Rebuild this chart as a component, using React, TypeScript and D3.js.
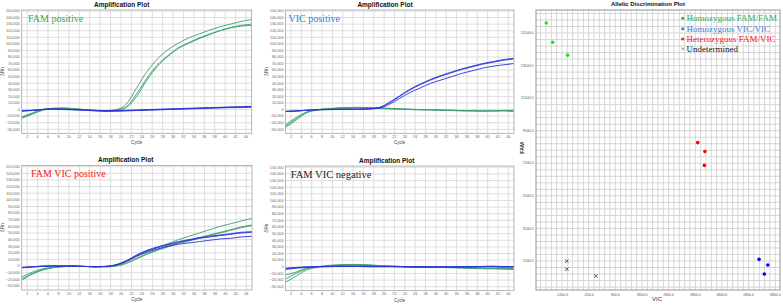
import React from 'react';
import * as d3 from 'd3';

// sampled cycles (every 2nd cycle), ΔRn in thousands
const cycles = [1, 3, 5, 7, 9, 11, 13, 15, 17, 19, 21, 23, 25, 27, 29, 31, 33, 35, 37, 39, 41, 43, 45];

// FAM positive
const famPosFam1 = [-12, -6, 0, 2, 2, 1, 0, -1, -1.5, 0, 8, 33, 58, 77, 91, 101, 109, 115, 121, 126, 130, 134, 137];
const famPosFam2 = [-13, -7, -1, 1.5, 2, 1, 0, -1, -2, -1, 4, 24, 48, 68, 82, 94, 102, 109, 115, 120, 125, 128, 130];
const famPosFam3 = [-11, -5, 0, 2, 2.5, 1.5, 0, -1, -2, -1, 3, 20, 45, 66, 81, 93, 101, 108, 114, 120, 124, 127, 128];
const famPosVic1 = [-2, -1.5, 0, 1, 0.5, 0, -0.5, -1.5, -2, -2, -1.5, -1, -0.5, 0, 0.5, 1, 1.5, 2, 2.5, 3, 3.5, 4, 4.5];
const famPosVic2 = [-2.5, -1, 0.5, 1, 0.5, 0, -1, -2, -2.5, -2.5, -2, -1.5, -1, -0.5, 0, 0.5, 1, 1.5, 2, 2.5, 3, 3, 3.5];
const famPosVic3 = [-1.5, -1, 0, 0.5, 0, -0.5, -1, -1.5, -2, -1.5, -1, -0.5, 0, 0.5, 1, 1.5, 2, 2.5, 3, 3.5, 4, 4.5, 5];

// VIC positive
const vicPosVic1 = [-3, -2, -1, 0, 0, 0.5, 0.5, 0.5, 1, 3, 11, 21, 31, 39, 46, 52, 57, 62, 66, 70, 73, 76, 78];
const vicPosVic2 = [-3, -2.5, -1, -0.5, 0, 0.5, 0.5, 0.5, 1, 3, 10, 20, 30, 38, 45, 51, 56, 61, 65, 69, 72, 75, 77];
const vicPosVic3 = [-2.5, -2, -1, 0, 0, 0, 0.5, 0.5, 1, 2, 8, 17, 26, 33, 40, 45, 50, 55, 59, 63, 66, 68, 70];
const vicPosFam1 = [-27, -16, -5, -1, 1, 2, 2.5, 3, 3, 2, 1.5, 1, 0.5, 0, 0, -0.5, -1, -1.5, -2, -2, -2, -1.5, -2];
const vicPosFam2 = [-25, -14, -4, -0.5, 1.5, 2.5, 3, 3.5, 3, 2.5, 2, 1, 0.5, 0, -0.5, -1, -1, -1.5, -1.5, -2, -2, -2, -3];
const vicPosFam3 = [-23, -12, -4, 0, 1, 2, 2.5, 2.5, 2.5, 2, 1, 0.5, 0, -0.5, -0.5, -1, -1.5, -2, -2, -2.5, -2, -1.5, -1];

// FAM VIC positive
const dualPosFam1 = [-16, -9, -4, -1.5, -0.5, 0, -0.5, -1, -1, 1, 7, 15, 22, 28, 34, 40, 45, 50, 55, 60, 64, 68, 72];
const dualPosFam2 = [-19, -11, -5, -2, -0.5, 0, -0.5, -1, -1, 0.5, 5, 12, 19, 25, 30, 35, 39, 43, 47, 51, 55, 59, 62];
const dualPosFam3 = [-21, -12, -6, -2.5, -1, 0, -0.5, -1, -1, 0, 4, 11, 18, 24, 29, 34, 38, 42, 46, 50, 54, 58, 61];
const dualPosVic1 = [-2, -1, 0, 0.5, 0, 0, -0.5, -1, -0.5, 2, 8, 17, 24, 29, 33, 37, 40, 43, 45, 47, 49, 51, 52];
const dualPosVic2 = [-2.5, -1.5, -0.5, 0, 0, 0, -0.5, -1, -0.5, 2, 8, 16, 23, 28, 32, 36, 39, 42, 44, 46, 48, 50, 51];
const dualPosVic3 = [-2, -1, 0, 0.5, 0.5, 0, -0.5, -1, -0.5, 1.5, 7, 15, 21, 26, 30, 33, 35, 37, 39, 41, 42, 44, 45];

// FAM VIC negative
const negFam1 = [-12, -8, -2, 0, 2, 3, 3.5, 3.5, 3, 2, 1, 0.5, 0, -0.5, -0.5, -1, -1, -1, -1.5, -2, -2.5, -3, -3.5];
const negFam2 = [-23, -14, -5, -1, 1.5, 2.5, 3, 3, 2.5, 1.5, 1, 0.5, 0, 0, -0.5, -1, -1.5, -2, -2.5, -3, -3, -3.5, -4];
const negFam3 = [-18, -10, -3, 0, 1, 2, 2.5, 2.5, 2, 1.5, 1, 0.5, 0, -0.5, -1, -1, -1, -1.5, -1.5, -2, -2, -2, -2.5];
const negVic1 = [-4, -2, -1, 0, 0.5, 0.5, 0.5, 0.5, 0.5, 0.5, 0.5, 0, 0, 0, 0, 0, 0, 0, 0, 0.5, 0.5, 0, 0];
const negVic2 = [-3, -1.5, -0.5, 0, 0, 0.5, 0.5, 0.5, 0, 0, 0, 0, -0.5, -0.5, -0.5, -0.5, -0.5, -0.5, -0.5, 0, 0, -0.5, -0.5];
const negVic3 = [-2, -1, 0, 0.5, 0.5, 1, 1, 1, 1, 0.5, 0.5, 0.5, 0, 0, 0, 0, 0, 0.5, 0.5, 0.5, 1, 0.5, 0.5];

const yTicks = d3.range(-30000, 150001, 10000);
const xTicks = d3.range(2, 45, 2);

// allelic discrimination
const homFamVic = [-1790, -1550, -990];
const homFamFam = [16110, 14930, 14140];
const homVicVic = [6190, 6520, 6390];
const homVicFam = [1600, 1250, 700];
const hetVic = [3890, 4160, 4140];
const hetFam = [8770, 8220, 7370];
const undVic = [-1020, -1020, 70];
const undFam = [1490, 1000, 580];
const alleleXTicks = [-1200, -200, 800, 1800, 2800, 3800, 4800, 5800, 6800];
const alleleYTicks = [1500, 3500, 5500, 7500, 9500, 11500, 13500, 15500];
const legendLabels = ['Homozygous FAM/FAM', 'Homozygous VIC/VIC', 'Heterozygous FAM/VIC', 'Undetermined'];

const FAM_COLOR = '#3a9e6c';
const VIC_COLOR = '#2b33d6';
const SANS = 'Liberation Sans, Arial, sans-serif';
const SERIF = 'Liberation Serif, Times New Roman, serif';

interface PanelProps {
  left: number;
  right: number;
  top: number;
  bottom: number;
  y150: number;
  yNeg30: number;
  titleX: number;
  label: string;
  labelColor: string;
  labelX: number;
  labelY: number;
  labelSize: number;
  fam: number[][];
  vic: number[][];
}

const AmpPanel: React.FC<PanelProps> = (p) => {
  const x = d3.scaleLinear().domain([1, 45]).range([p.left + 0.3, p.right - 0.5]);
  const y = d3.scaleLinear().domain([-30000, 150000]).range([p.yNeg30, p.y150]);
  const line = d3
    .line<number>()
    .x((_, i) => x(cycles[i]))
    .y((d) => y(d * 1000))
    .curve(d3.curveMonotoneX);
  const fmt = d3.format(',');
  return (
    <g>
      <text x={p.titleX} y={p.top - 3.5} textAnchor="middle" fontFamily={SANS} fontWeight="bold" fontSize={6.5} fill="#111">
        Amplification Plot
      </text>
      <rect x={p.left} y={p.top} width={p.right - p.left} height={p.bottom - p.top} fill="#fff" />
      {yTicks.map((t) => (
        <g key={'y' + t}>
          <line x1={p.left} x2={p.right} y1={y(t)} y2={y(t)} stroke="#d6d6d6" strokeWidth={0.8} />
          <text x={p.left - 2} y={y(t) + 1.3} textAnchor="end" fontFamily={SANS} fontSize={3.8} fill="#666">
            {fmt(t)}
          </text>
        </g>
      ))}
      {xTicks.map((t) => (
        <g key={'x' + t}>
          <line x1={x(t)} x2={x(t)} y1={p.top} y2={p.bottom} stroke="#d6d6d6" strokeWidth={0.8} />
          <text x={x(t)} y={p.bottom + 4.5} textAnchor="middle" fontFamily={SANS} fontSize={3.8} fill="#666">
            {t}
          </text>
        </g>
      ))}
      <rect x={p.left} y={p.top} width={p.right - p.left} height={p.bottom - p.top} fill="none" stroke="#999" strokeWidth={0.7} />
      <text x={(p.left + p.right) / 2} y={p.bottom + 11} textAnchor="middle" fontFamily={SANS} fontSize={4.5} fill="#444">
        Cycle
      </text>
      <text
        transform={`translate(${p.left - 18},${(p.top + p.bottom) / 2}) rotate(-90)`}
        textAnchor="middle"
        fontFamily={SANS}
        fontSize={4.5}
        fill="#444"
      >
        ΔRn
      </text>
      {p.fam.map((s, i) => (
        <path key={'f' + i} d={line(s) || ''} fill="none" stroke={FAM_COLOR} strokeWidth={0.9} />
      ))}
      {p.vic.map((s, i) => (
        <path key={'v' + i} d={line(s) || ''} fill="none" stroke={VIC_COLOR} strokeWidth={0.9} />
      ))}
      <text x={p.labelX} y={p.labelY} fontFamily={SERIF} fontSize={p.labelSize} fill={p.labelColor}>
        {p.label}
      </text>
    </g>
  );
};

const AllelicPlot: React.FC = () => {
  const left = 536;
  const right = 780;
  const top = 10;
  const bottom = 290;
  const x = d3.scaleLinear().domain([-1200, 6800]).range([562, 775.3]);
  const y = d3.scaleLinear().domain([1500, 15500]).range([261, 33]);
  const xMinor = d3.range(-2200, 7000, 200).filter((v) => x(v) > left + 0.5 && x(v) < right - 0.5);
  const yMinor = d3.range(-500, 17000, 400).filter((v) => y(v) > top + 0.5 && y(v) < bottom - 0.5);
  const legendColors = ['#2eaa5c', '#3b7fd4', '#ee2222', '#111'];
  const cross = (cx: number, cy: number, k: string) => (
    <g key={k} stroke="#333" strokeWidth={0.8}>
      <line x1={cx - 1.8} y1={cy - 1.8} x2={cx + 1.8} y2={cy + 1.8} />
      <line x1={cx - 1.8} y1={cy + 1.8} x2={cx + 1.8} y2={cy - 1.8} />
    </g>
  );
  return (
    <g>
      <text x={(left + right) / 2 - 10} y={6} textAnchor="middle" fontFamily={SANS} fontWeight="bold" fontSize={6} fill="#111">
        Allelic Discrimination Plot
      </text>
      <rect x={left} y={top} width={right - left} height={bottom - top} fill="#fff" />
      {xMinor.map((v) => (
        <line key={'xm' + v} x1={x(v)} x2={x(v)} y1={top} y2={bottom} stroke="#cdcdcd" strokeWidth={0.8} />
      ))}
      {yMinor.map((v) => (
        <line key={'ym' + v} x1={left} x2={right} y1={y(v)} y2={y(v)} stroke="#cdcdcd" strokeWidth={0.8} />
      ))}
      <rect x={left} y={top} width={right - left} height={bottom - top} fill="none" stroke="#888" strokeWidth={0.9} />
      {alleleXTicks.map((t) => (
        <text key={'xt' + t} x={x(t)} y={bottom + 5.5} textAnchor="middle" fontFamily={SANS} fontSize={3.5} fill="#555">
          {t.toFixed(1)}
        </text>
      ))}
      {alleleYTicks.map((t) => (
        <text key={'yt' + t} x={left - 2.5} y={y(t) + 1.2} textAnchor="end" fontFamily={SANS} fontSize={3.5} fill="#555">
          {t.toFixed(1)}
        </text>
      ))}
      <text x={657} y={301} textAnchor="middle" fontFamily={SANS} fontSize={6} fill="#333">
        VIC
      </text>
      <text transform={`translate(524,148) rotate(-90)`} textAnchor="middle" fontFamily={SANS} fontWeight="bold" fontSize={5.5} fill="#333">
        FAM
      </text>
      {homFamVic.map((v, i) => (
        <circle key={'g' + i} cx={x(v)} cy={y(homFamFam[i])} r={1.8} fill="#22e022" />
      ))}
      {hetVic.map((v, i) => (
        <circle key={'r' + i} cx={x(v)} cy={y(hetFam[i])} r={1.8} fill="#ff0000" />
      ))}
      {homVicVic.map((v, i) => (
        <circle key={'b' + i} cx={x(v)} cy={y(homVicFam[i])} r={1.8} fill="#0000ff" />
      ))}
      {undVic.map((v, i) => cross(x(v), y(undFam[i]), 'u' + i))}
      {legendLabels.map((l, i) => (
        <g key={l}>
          {i < 3 ? (
            <circle cx={682.7} cy={18.3 + i * 10.35} r={1.5} fill={legendColors[i]} />
          ) : (
            <text x={682.7} y={18.3 + i * 10.35 + 2} textAnchor="middle" fontFamily={SERIF} fontSize={7} fill="#111">
              ×
            </text>
          )}
          <text x={686.5} y={18.3 + i * 10.35 + 3} fontFamily={SERIF} fontSize={9} fill={legendColors[i]}>
            {l}
          </text>
        </g>
      ))}
    </g>
  );
};

export default function App() {
  return (
    <svg width={783} height={306} style={{ position: 'absolute', left: 0, top: 0, background: '#fff' }}>
      <rect width={783} height={306} fill="#fff" />
      <AmpPanel
        left={21.7} right={251.7} top={10} bottom={133.3} y150={11} yNeg30={129.3} titleX={121.7}
        label="FAM positive" labelColor="#2ea860" labelX={28} labelY={21.7} labelSize={10}
        fam={[famPosFam1, famPosFam2, famPosFam3]} vic={[famPosVic1, famPosVic2, famPosVic3]}
      />
      <AmpPanel
        left={285.5} right={514} top={10} bottom={133.3} y150={11} yNeg30={129.3} titleX={385}
        label="VIC positive" labelColor="#2f7fd0" labelX={288.5} labelY={21.7} labelSize={10}
        fam={[vicPosFam1, vicPosFam2, vicPosFam3]} vic={[vicPosVic1, vicPosVic2, vicPosVic3]}
      />
      <AmpPanel
        left={21.7} right={252} top={165.5} bottom={290} y150={166.7} yNeg30={286} titleX={125.7}
        label="FAM VIC positive" labelColor="#ee2222" labelX={31} labelY={177.3} labelSize={10}
        fam={[dualPosFam1, dualPosFam2, dualPosFam3]} vic={[dualPosVic1, dualPosVic2, dualPosVic3]}
      />
      <AmpPanel
        left={285.5} right={514} top={166} bottom={290.5} y150={167.3} yNeg30={286.7} titleX={386.7}
        label="FAM VIC negative" labelColor="#222" labelX={290.7} labelY={178.3} labelSize={10.5}
        fam={[negFam1, negFam2, negFam3]} vic={[negVic1, negVic2, negVic3]}
      />
      <AllelicPlot />
    </svg>
  );
}
